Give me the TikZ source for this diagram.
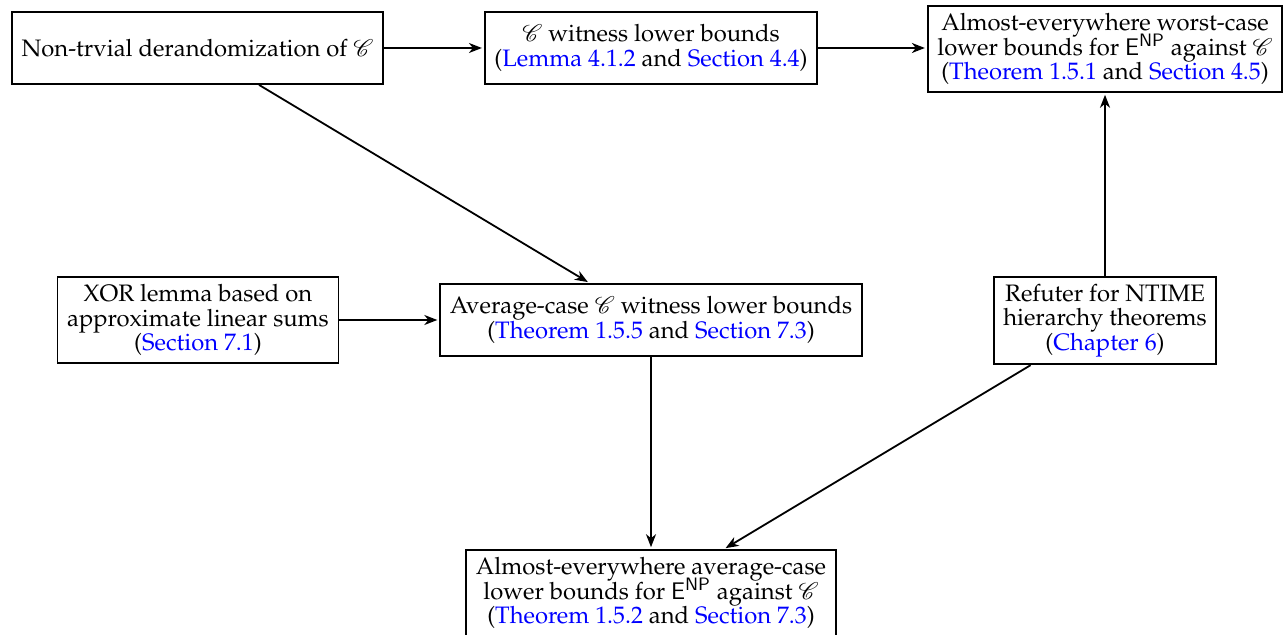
\documentclass[tikz,border=0pt]{standalone}
\usepackage[T1]{fontenc}
\usepackage{mathpazo}
\usepackage{mathrsfs}
\usetikzlibrary{arrows.meta}
\definecolor{linkblue}{rgb}{0,0,1}
\newcommand{\cls}{\ensuremath{\mathscr{C}}}
\newcommand{\ENP}{\smash{\ensuremath{\mathsf{E}^{\mathsf{NP}}}}}
\newcommand{\lnk}[1]{\textcolor{linkblue}{#1}}
\begin{document}
\begin{tikzpicture}[x=0.5pt,y=-0.5pt,
  box/.style={draw, line width=0.9pt, align=center, inner xsep=4.8pt, inner ysep=3.6pt,
    minimum height=36pt, font=\fontsize{11.9pt}{12.3pt}\selectfont},
  arr/.style={-{Stealth[length=6.5pt,width=5pt,inset=2pt]}, line width=0.9pt, shorten >=1pt}]
  \useasboundingbox (0,0) rectangle (1288,635);

  % top row
  \node[box] (nd) at (197.5,48) {Non-trvial derandomization of \cls};
  \node[box] (wl) at (651,48) {\cls{} witness lower bounds\\(\lnk{Lemma 4.1.2} and \lnk{Section 4.4})};
  \node[box] (wc) at (1105,49) {Almost-everywhere worst-case\\lower bounds for \ENP{} against \cls\\(\lnk{Theorem 1.5.1} and \lnk{Section 4.5})};

  % middle row
  \node[box] (xor) at (198,320) {XOR lemma based on\\approximate linear sums\\(\lnk{Section 7.1})};
  \node[box] (ac) at (651,320) {Average-case \cls{} witness lower bounds\\(\lnk{Theorem 1.5.5} and \lnk{Section 7.3})};
  \node[box] (rf) at (1105,320.5) {Refuter for NTIME\\hierarchy theorems\\(\lnk{Chapter 6})};

  % bottom, its lower edge runs off the page
  \node[box] (ae) at (651,593) {Almost-everywhere average-case\\lower bounds for \ENP{} against \cls\\(\lnk{Theorem 1.5.2} and \lnk{Section 7.3})};

  % connectors
  \draw[arr] (nd) -- (wl);
  \draw[arr] (wl.east) -- (wl.east -| wc.west);
  \draw[arr] (nd) -- (ac);
  \draw[arr] (xor) -- (ac);
  \draw[arr] (rf) -- (wc);
  \draw[arr] (ac) -- (ae);
  \draw[arr] (rf) -- (ae);
\end{tikzpicture}
\end{document}
